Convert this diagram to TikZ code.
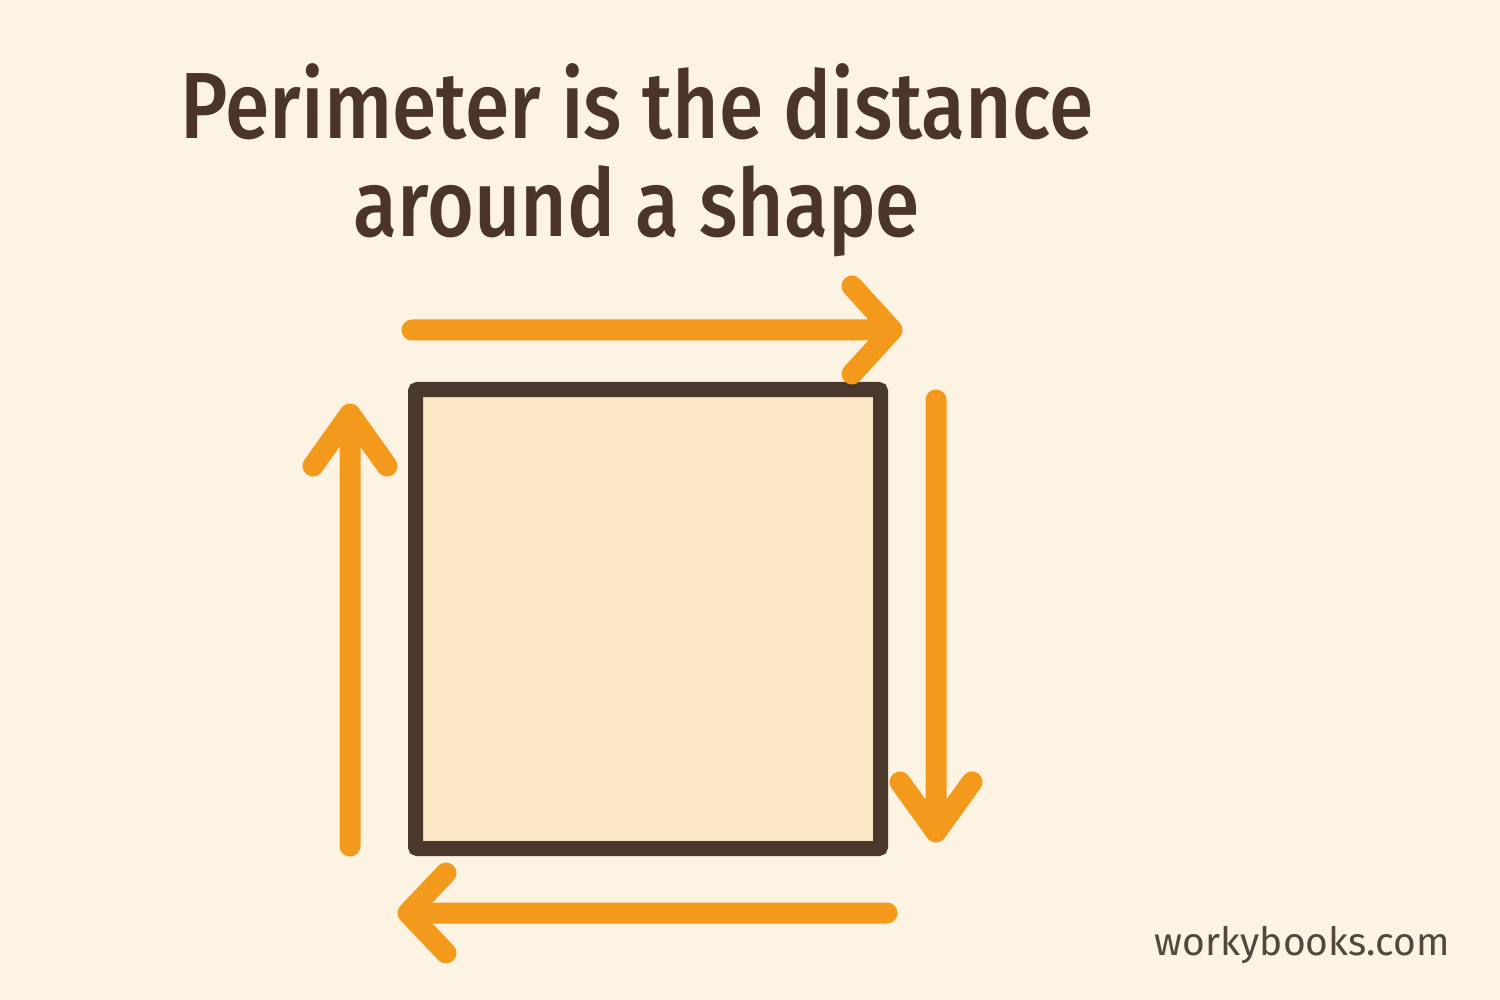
\documentclass[tikz,border=0pt]{standalone}
\usepackage{fontspec}
\setmainfont{Fira Sans}
\newfontfamily\titlefont{Fira Sans}[UprightFont={* Medium}, FakeStretch=0.855]
\usetikzlibrary{positioning}
\definecolor{bgcream}{HTML}{FDF3E2}
\definecolor{sqfill}{HTML}{FCE6C6}
\definecolor{edgebrown}{HTML}{4A382C}
\definecolor{arrorange}{HTML}{F39A1C}
\definecolor{titlebrown}{HTML}{4A3528}
\definecolor{markgrey}{HTML}{54453D}
\tikzset{
  arr/.style={draw=arrorange, line width=10.5pt, line cap=round, line join=round},
  box/.style={draw=edgebrown, fill=sqfill, line width=7.5pt, rounded corners=1pt,
    minimum width=232.5pt, minimum height=229.5pt, inner sep=0pt},
}
\begin{document}
\begin{tikzpicture}[x=0.5pt,y=-0.5pt]
%set diagram: 1500 x 1000, origin top left
\fill[bgcream] (0,0) rectangle (1500,1000);
\useasboundingbox (0,0) rectangle (1500,1000);

% Title
\node[align=center, text=titlebrown, font=\titlefont\fontsize{47}{49}\selectfont] (title) at (637,160)
  {Perimeter is the distance\\around a shape};

%Shape: Square
\node[box] (sq) at (648,619) {};

% Arrows round the square
\coordinate (topA) at (412,330);
\coordinate (topB) at (892,330);
\draw[arr] (topA) -- (topB) ++(-40,-44) -- (topB) -- ++(-40,44);
\coordinate (rgtA) at (936,400);
\coordinate (rgtB) at (936,832);
\draw[arr] (rgtA) -- (rgtB) ++(-36,-50) -- (rgtB) -- ++(36,-50);
\coordinate (botA) at (887,913);
\coordinate (botB) at (408,913);
\draw[arr] (botA) -- (botB) ++(38,-40) -- (botB) -- ++(38,40);
\coordinate (lftA) at (350,846);
\coordinate (lftB) at (350,414);
\draw[arr] (lftA) -- (lftB) ++(-37,52) -- (lftB) -- ++(37,52);

% Text Node
\node[anchor=base east, inner sep=0pt, text=markgrey, font=\fontsize{19.5}{21}\selectfont] (mark) at (1450,955) {workybooks.com};
\end{tikzpicture}
\end{document}
